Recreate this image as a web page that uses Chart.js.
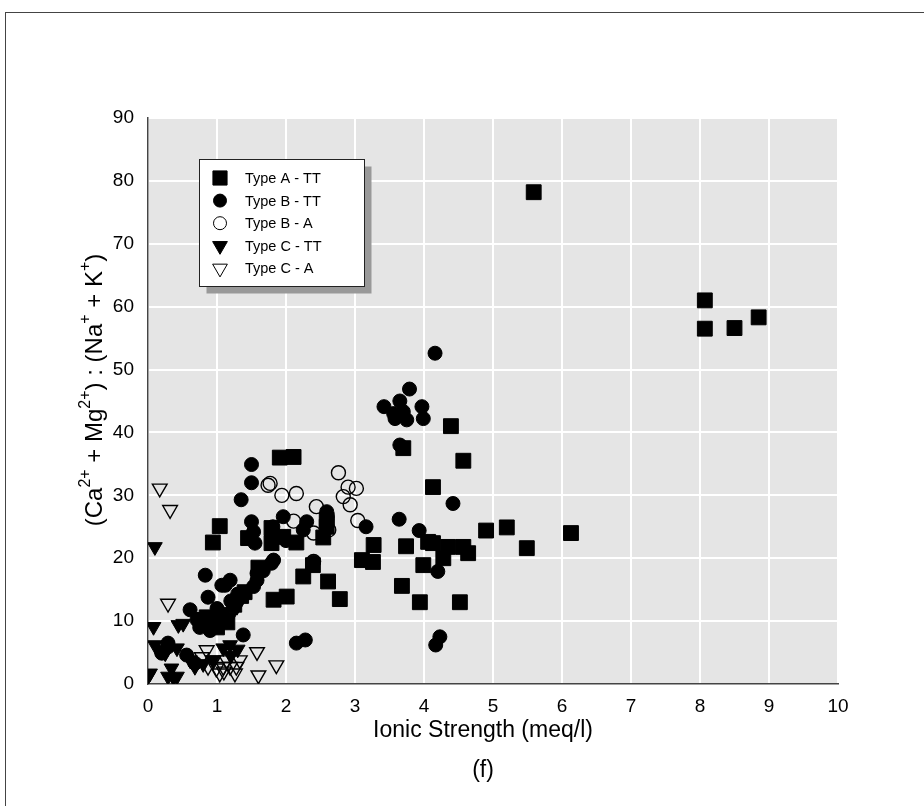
<!DOCTYPE html>
<html>
<head>
<meta charset="utf-8">
<script src="https://cdn.jsdelivr.net/npm/chart.js@4/dist/chart.umd.min.js"></script>
<style>
  html, body { margin: 0; padding: 0; background: #fff; }
</style>
</head>
<body>
<canvas id="chart" width="924" height="806"></canvas>
<script>
// Data: [ionic strength, ratio]
const typeA_TT = [
  [5.59,78.2],[8.07,61.0],[8.07,56.5],[8.5,56.6],[8.85,58.3],
  [6.13,24.0],[5.49,21.6],[5.2,24.9],[4.9,24.4],[4.64,20.8],[4.57,35.5],[4.57,21.8],
  [4.39,41.0],[4.35,21.8],[4.52,13.0],[4.13,31.3],[4.06,22.6],[4.13,22.4],[4.28,20.0],
  [3.74,21.9],[3.7,37.5],[3.27,22.1],[3.1,19.7],[3.26,19.4],[3.68,15.6],[3.94,13.0],[3.99,18.9],
  [2.61,16.3],[2.78,13.5],[2.25,17.1],[2.39,18.9],[2.01,13.9],[1.82,13.4],[2.11,36.1],[1.91,36.0],
  [2.54,23.3],[2.59,26.1],[2.59,25.0],[2.15,22.5],[1.96,23.4],[1.04,25.1],[0.94,22.5],[1.45,23.2],
  [1.79,24.8],[1.79,22.4],[1.6,18.5],[0.95,10.2],[1.05,11.0],[1.15,9.8],[1.25,12.6],[1.35,14.0],
  [0.85,10.6],[1.0,9.0],[1.4,14.6]
];
const typeB_TT = [
  [4.16,52.6],[3.79,46.9],[3.65,45.0],[3.42,44.1],[3.97,44.1],[3.58,42.2],[3.75,42.0],[3.99,42.2],
  [3.56,43.0],[3.7,43.3],[3.65,38.0],[3.64,26.2],[3.93,24.4],[4.42,28.7],[3.16,25.0],[2.59,27.4],
  [2.6,26.5],[2.3,25.8],[1.96,26.6],[4.2,17.9],[2.4,19.4],[1.5,34.9],[1.5,32.0],[1.35,29.3],
  [1.5,25.8],[1.53,24.2],[1.55,22.4],[1.81,25.0],[1.82,19.7],[1.58,16.5],[1.53,15.5],[1.67,18.0],
  [1.58,17.6],[1.79,19.2],[0.83,17.3],[1.19,16.5],[1.12,15.7],[1.07,15.7],[0.87,13.8],[0.61,11.8],
  [0.71,10.2],[1.38,7.8],[2.15,6.5],[2.28,7.0],[4.23,7.5],[4.17,6.2],[0.29,6.5],[0.2,4.9],
  [0.56,4.6],[0.68,3.3],[0.2,5.1],[0.29,5.9],[1.0,12.0],[1.2,13.2],[1.3,14.3],[0.75,9.0],
  [0.9,8.5],[2.25,24.5],[2.0,22.8]
];
const typeB_A = [
  [2.76,33.6],[2.9,31.3],[3.02,31.1],[2.83,29.8],[2.93,28.5],[3.04,26.0],[2.15,30.3],[1.94,30.0],
  [1.74,31.6],[1.77,31.9],[2.44,28.2],[2.11,25.9],[2.4,24.0],[2.4,19.5],[2.62,24.5]
];
const typeC_TT = [
  [0.1,21.8],[0.08,9.1],[0.1,6.2],[0.0,1.2],[0.29,1.2],[0.37,1.0],[0.34,2.5],[0.25,4.9],
  [0.42,5.7],[0.44,9.4],[0.51,9.6],[0.68,2.75],[0.61,3.8],[1.04,10.2],[1.19,10.7],[1.29,12.3],
  [1.33,13.4],[1.09,5.7],[1.19,6.2],[0.94,3.8],[0.7,10.7],[0.03,1.7],[0.42,1.2],[0.8,3.2],
  [1.2,4.5],[1.3,5.5]
];
const typeC_A = [
  [0.17,31.1],[0.32,27.7],[0.29,12.8],[1.58,5.1],[1.86,3.0],[1.6,1.4],[0.85,5.4],[0.87,2.75],
  [0.99,2.5],[1.09,2.75],[1.19,2.75],[1.28,2.75],[0.95,3.8],[1.14,3.8],[1.33,3.8],[1.04,1.7],
  [1.26,1.7],[0.78,4.3],[1.2,4.8],[1.1,2.0]
];
const seriesNames = ['Type A - TT', 'Type B - TT', 'Type B - A', 'Type C - TT', 'Type C - A'];
const xTicks = [0, 10, 1];   // min, max, step
const yTicks = [0, 90, 10];

const FONT = "'Liberation Sans', Arial, sans-serif";
const toPts = arr => arr.map(p => ({ x: p[0], y: p[1] }));

// marker styles per series
const markers = [
  { pointStyle: 'rect', radius: 10.5, rotation: 0, fill: '#000', border: 1 },
  { pointStyle: 'circle', radius: 7, rotation: 0, fill: '#000', border: 1 },
  { pointStyle: 'circle', radius: 7, rotation: 0, fill: 'rgba(0,0,0,0)', border: 1.4 },
  { pointStyle: 'triangle', radius: 8.5, rotation: 180, fill: '#000', border: 1 },
  { pointStyle: 'triangle', radius: 8.5, rotation: 180, fill: 'rgba(0,0,0,0)', border: 1.4 }
];
const allData = [typeA_TT, typeB_TT, typeB_A, typeC_TT, typeC_A];

const datasets = allData.map((d, i) => ({
  label: seriesNames[i],
  data: toPts(d),
  pointStyle: markers[i].pointStyle,
  pointRadius: markers[i].radius,
  pointRotation: markers[i].rotation,
  pointBackgroundColor: markers[i].fill,
  pointBorderColor: '#000',
  pointBorderWidth: markers[i].border,
  pointHoverRadius: markers[i].radius
}));

// grey plot background + outer frame
const backdrop = {
  id: 'backdrop',
  beforeDraw(chart) {
    const { ctx, chartArea: a } = chart;
    ctx.save();
    ctx.fillStyle = '#fff';
    ctx.fillRect(0, 0, chart.width, chart.height);
    ctx.strokeStyle = '#444';
    ctx.lineWidth = 1;
    ctx.strokeRect(5.5, 12.5, 1000, 1000);
    ctx.fillStyle = '#e5e5e5';
    ctx.fillRect(a.left, a.top, a.right - a.left, a.bottom - a.top);
    ctx.restore();
  }
};

// axis titles (y one has superscripts) and the panel caption
const titles = {
  id: 'titles',
  afterDraw(chart) {
    const { ctx, chartArea: a } = chart;
    const runs = [['(Ca', 0], ['2+', 1], [' + Mg', 0], ['2+', 1], [') : (Na', 0], ['+', 1], [' + K', 0], ['+', 1], [')', 0]];
    const big = '24px ' + FONT, small = '16px ' + FONT;
    ctx.save();
    ctx.fillStyle = '#000';
    ctx.textBaseline = 'middle';
    ctx.textAlign = 'center';
    ctx.font = '23px ' + FONT;
    ctx.fillText('Ionic Strength (meq/l)', 483, 731);
    ctx.fillText('(f)', 483, 771);

    ctx.textAlign = 'left';
    let total = 0;
    runs.forEach(r => { ctx.font = r[1] ? small : big; total += ctx.measureText(r[0]).width; });
    ctx.translate(95, 390);
    ctx.rotate(-Math.PI / 2);
    let x = -total / 2;
    runs.forEach(r => {
      ctx.font = r[1] ? small : big;
      ctx.fillText(r[0], x, r[1] ? -9 : 0);
      x += ctx.measureText(r[0]).width;
    });
    ctx.restore();
  }
};

// boxed legend with drop shadow inside the plot
const boxLegend = {
  id: 'boxLegend',
  afterDatasetsDraw(chart) {
    const ctx = chart.ctx;
    const bx = 199.5, by = 159.5, bw = 165, bh = 127;
    ctx.save();
    ctx.fillStyle = '#999';
    ctx.fillRect(bx + 7, by + 7, bw, bh);
    ctx.fillStyle = '#fff';
    ctx.fillRect(bx, by, bw, bh);
    ctx.strokeStyle = '#222';
    ctx.lineWidth = 1;
    ctx.strokeRect(bx, by, bw, bh);
    ctx.font = '14.5px ' + FONT;
    ctx.textBaseline = 'middle';
    seriesNames.forEach((name, i) => {
      const y = 178 + i * 22.6;
      const m = markers[i];
      ctx.fillStyle = m.fill === '#000' ? '#000' : '#fff';
      ctx.strokeStyle = '#000';
      Chart.helpers.drawPoint(ctx, {
        pointStyle: m.pointStyle,
        radius: m.pointStyle === 'rect' ? 10 : (m.pointStyle === 'circle' ? 6.5 : 8.5),
        rotation: m.rotation,
        borderWidth: m.border
      }, 220, y);
      ctx.fillStyle = '#000';
      ctx.fillText(name, 245, y + 1);
    });
    ctx.restore();
  }
};

new Chart(document.getElementById('chart'), {
  type: 'scatter',
  data: { datasets: datasets },
  plugins: [backdrop, boxLegend, titles],
  options: {
    responsive: false,
    animation: false,
    layout: { padding: { top: 118, right: 86, left: 0, bottom: 0 } },
    plugins: { legend: { display: false }, tooltip: { enabled: false } },
    scales: {
      x: {
        type: 'linear',
        min: xTicks[0], max: xTicks[1],
        afterFit(scale) { scale.height = 122; },
        ticks: { stepSize: xTicks[2], color: '#000', padding: 11, font: { family: FONT, size: 19 } },
        grid: { color: '#fff', lineWidth: 2, drawTicks: false },
        border: { display: true, color: '#444', width: 1.5 }
      },
      y: {
        type: 'linear',
        min: yTicks[0], max: yTicks[1],
        afterFit(scale) { scale.width = 148; },
        ticks: { stepSize: yTicks[2], color: '#000', padding: 14, font: { family: FONT, size: 19 } },
        grid: { color: '#fff', lineWidth: 2, drawTicks: false },
        border: { display: true, color: '#444', width: 1.5 }
      }
    }
  }
});
</script>
</body>
</html>
